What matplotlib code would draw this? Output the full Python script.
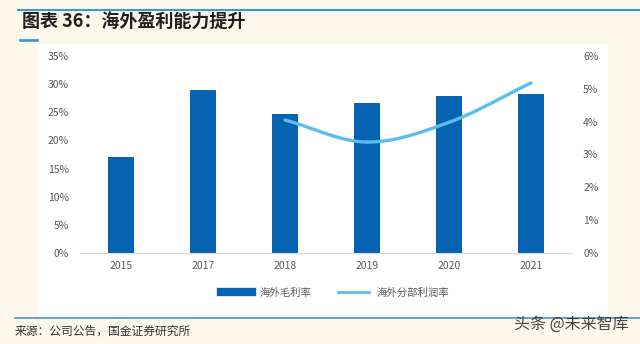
import numpy as np
import matplotlib.pyplot as plt
from matplotlib.patches import Rectangle
from matplotlib.lines import Line2D
from matplotlib.ticker import PercentFormatter

plt.rcParams['font.family'] = ['Noto Sans CJK SC', 'DejaVu Sans']

years = ['2015', '2017', '2018', '2019', '2020', '2021']
gross_margin = [17.1, 29.0, 24.7, 26.6, 27.9, 28.2]      # 海外毛利率 (%)
segment_years = ['2018', '2019', '2020', '2021']
segment_margin = [4.05, 3.38, 3.98, 5.18]                # 海外分部利润率 (%)

BAR = '#0563B1'
LINE = '#5BBCEE'
CREAM = '#FDF8EC'
RULE = '#3A9BD0'
TICK = '#595959'


def smooth(xs, ys, n=40):
    """Catmull-Rom curve through the points, like a smoothed Excel line."""
    xs = np.asarray(xs, float)
    ys = np.asarray(ys, float)
    px = np.concatenate([[2 * xs[0] - xs[1]], xs, [2 * xs[-1] - xs[-2]]])
    py = np.concatenate([[2 * ys[0] - ys[1]], ys, [2 * ys[-1] - ys[-2]]])
    out_x, out_y = [], []
    for i in range(1, len(px) - 2):
        t = np.linspace(0, 1, n)
        for p, out in ((px, out_x), (py, out_y)):
            p0, p1, p2, p3 = p[i - 1], p[i], p[i + 1], p[i + 2]
            out.extend(0.5 * (2 * p1 + (-p0 + p2) * t
                              + (2 * p0 - 5 * p1 + 4 * p2 - p3) * t ** 2
                              + (-p0 + 3 * p1 - 3 * p2 + p3) * t ** 3))
    return out_x, out_y


fig = plt.figure(figsize=(6.4, 3.44), dpi=100)
fig.patch.set_facecolor(CREAM)

# white panel behind the chart
fig.add_artist(Rectangle((38 / 640, 28 / 344), 570 / 640, 272 / 344,
                         transform=fig.transFigure, facecolor='white',
                         edgecolor='none', zorder=0))

ax = fig.add_axes([80 / 640, 1 - 253 / 344, 492 / 640, 197 / 344])
ax.set_facecolor('none')
x = np.arange(len(years))
ax.bar(x, gross_margin, width=0.32, color=BAR, zorder=2)
ax.set_xlim(-0.5, len(years) - 0.5)
ax.set_ylim(0, 35)
ax.set_yticks(np.arange(0, 36, 5))
ax.yaxis.set_major_formatter(PercentFormatter(decimals=0))
ax.set_xticks(x)
ax.set_xticklabels(years)

ax2 = ax.twinx()
sx = [years.index(y) for y in segment_years]
cx, cy = smooth(sx, segment_margin)
ax2.plot(cx, cy, color=LINE, lw=2.4, solid_capstyle='round', zorder=3)
ax2.set_ylim(0, 6)
ax2.set_yticks(np.arange(0, 7, 1))
ax2.yaxis.set_major_formatter(PercentFormatter(decimals=0))

for a in (ax, ax2):
    for s in a.spines.values():
        s.set_visible(False)
    a.tick_params(length=0, labelsize=7.5, labelcolor=TICK, pad=8)
ax.spines['bottom'].set_visible(True)
ax.spines['bottom'].set_color('#D9D9D9')
ax.tick_params(axis='x', pad=6)

handles = [Line2D([], [], color=BAR, lw=6),
           Line2D([], [], color=LINE, lw=2)]
fig.legend(handles, ['海外毛利率', '海外分部利润率'], loc='center',
           bbox_to_anchor=(335 / 640, 1 - 293 / 344), ncol=2, frameon=False,
           fontsize=7.5, labelcolor=TICK, handlelength=3.0,
           columnspacing=2.5, handletextpad=0.7)

# title block and rules
fig.add_artist(Line2D([18 / 640, 1], [1 - 10 / 344] * 2, color=RULE, lw=1.5,
                      transform=fig.transFigure))
fig.add_artist(Line2D([20 / 640, 37 / 640], [1 - 40 / 344] * 2, color=RULE,
                      lw=2, transform=fig.transFigure))
fig.text(22 / 640, 1 - 22 / 344, '图表 36：海外盈利能力提升', fontsize=13,
         fontweight='bold', color='#1F1F1F', va='center', ha='left')
fig.add_artist(Line2D([15 / 640, 1], [1 - 318 / 344] * 2, color=RULE, lw=1.2,
                      transform=fig.transFigure))
fig.text(15 / 640, 1 - 331 / 344, '来源：公司公告，国金证券研究所', fontsize=8.5,
         color='#333333', va='center', ha='left')
fig.text(514 / 640, 1 - 324 / 344, '头条 @未来智库', fontsize=11.5,
         color='#333333', va='center', ha='left', alpha=0.9)

fig.savefig('out.png', dpi=100, facecolor=fig.get_facecolor())
